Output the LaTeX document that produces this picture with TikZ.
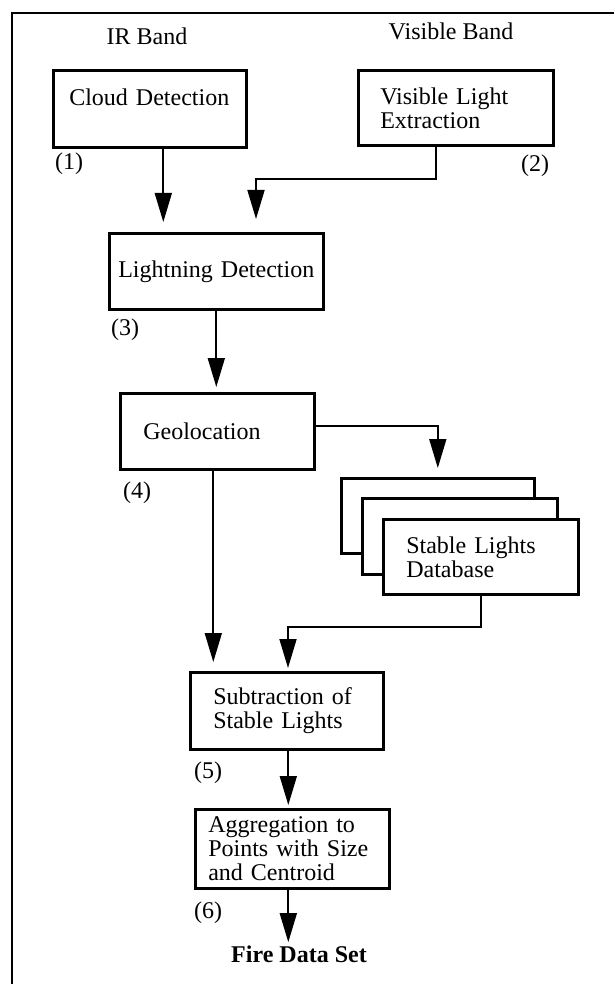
\documentclass[tikz,border=0pt]{standalone}
\usepackage{fontspec}
\setmainfont{Liberation Serif}
\usetikzlibrary{arrows.meta}

\begin{document}
\begin{tikzpicture}[x=1pt,y=-1pt,
  main box/.style={draw,line width=2.6pt,fill=white,anchor=north west,align=left,inner ysep=0pt,font=\fontsize{24}{24}\selectfont},
  back box/.style={draw,line width=2.6pt,fill=white,anchor=north west,inner sep=0pt},
  band/.style={anchor=base,inner sep=1pt,font=\fontsize{24}{24}\selectfont},
  flow/.style={line width=1.7pt,-{Triangle[width=17pt,length=29pt]}}]

\fill[white] (0,0) rectangle (614,984);
\useasboundingbox (0,0) rectangle (614,984);
\draw[line width=2pt] (12,984) -- (12,13) -- (614,13);

\node[band] (ir) at (147,45) {IR Band};
\node[band] (vis) at (451,40) {Visible Band};

\node[main box,inner xsep=16pt,text width=161pt,minimum height=77pt] (cloud) at (52,69) {Cloud Detection\\\mbox{}};
\node[main box,inner xsep=22pt,text width=151pt,minimum height=75pt] (visible) at (357,69) {Visible Light\\Extraction};
\node[main box,inner xsep=9pt,text width=196pt,minimum height=76pt] (lightning) at (108,232) {Lightning Detection};
\node[main box,inner xsep=23pt,text width=148pt,minimum height=76pt] (geo) at (119,392) {Geolocation};
\node[back box,minimum width=193pt,minimum height=75pt] (stack1) at (340,477) {};
\node[back box,minimum width=195pt,minimum height=76pt] (stack2) at (361,497) {};
\node[main box,inner xsep=23pt,text width=149pt,minimum height=75pt] (stack3) at (382,518) {Stable Lights\\Database};
\node[main box,inner xsep=23pt,text width=147pt,minimum height=77pt] (subtract) at (189,671) {Subtraction of\\Stable Lights};
\node[main box,inner xsep=13pt,text width=168pt,minimum height=79pt] (aggregate) at (194,808) {Aggregation to\\Points with Size\\and Centroid};
\node[band,font=\fontsize{24}{24}\selectfont\bfseries] (fire) at (299,962) {Fire Data Set};

\node[band] (l1) at (69,170) {(1)};
\node[band] (l2) at (535,172) {(2)};
\node[band] (l3) at (125,335) {(3)};
\node[band] (l4) at (137,498) {(4)};
\node[band] (l5) at (208,778) {(5)};
\node[band] (l6) at (208,918) {(6)};

\coordinate (cout) at ([xshift=13.5pt]cloud.south);
\coordinate (vout) at ([xshift=-19.5pt]visible.south);
\coordinate (vbend) at (256,179);
\coordinate (gout) at ([xshift=-4pt]geo.south);
\coordinate (sbend) at (288,627);
\coordinate (aout) at ([xshift=-4pt]aggregate.south);

\path[] (cout) [flow,shorten >=10pt] edge (cout |- lightning.north);
\draw[flow,shorten >=13pt] (vout) |- (vbend) -- (vbend |- lightning.north);
\path[] (lightning.south) [flow,shorten >=5pt] edge (lightning.south |- geo.north);
\draw[flow,shorten >=9pt] ([yshift=5pt]geo.east) -| (stack1.north);
\path[] (gout) [flow,shorten >=9pt] edge (gout |- subtract.north);
\draw[flow,shorten >=3pt] (stack3.south) |- (sbend) -- (sbend |- subtract.north);
\path[] ([xshift=1.5pt]subtract.south) [flow,shorten >=3pt] edge ([xshift=1.5pt]subtract.south |- aggregate.north);
\path[] (aout) [flow,shorten >=2pt] edge (aout |- fire.north);
\end{tikzpicture}
\end{document}
